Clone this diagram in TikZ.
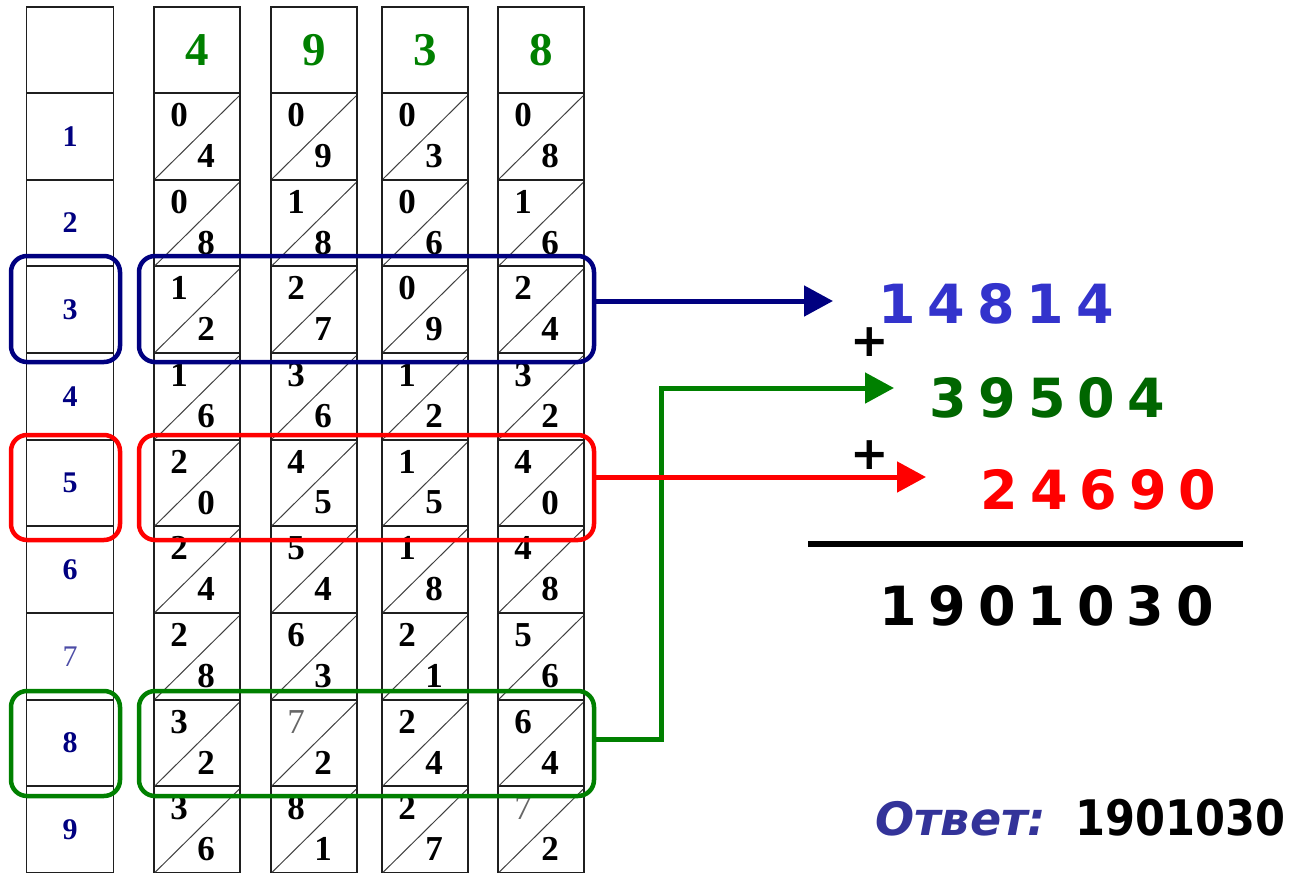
\documentclass[tikz,border=0pt]{standalone}
\usepackage{fontspec}
\setmainfont{Liberation Serif}
\newfontfamily\sansb{DejaVu Sans}
\newfontfamily\sansc{DejaVu Sans}[FakeStretch=0.88]
\usetikzlibrary{arrows.meta}
\definecolor{navyc}{RGB}{0,0,128}
\definecolor{grn}{RGB}{0,128,0}
\definecolor{dgrn}{RGB}{0,102,0}
\definecolor{bluet}{RGB}{51,51,204}
\definecolor{redc}{RGB}{255,0,0}
\definecolor{ansc}{RGB}{51,51,153}
\newcommand\litedig[1]{{\mdseries\color{black!60}#1}}
\newcommand\dgap{\hspace{12pt}}
\tikzset{
  gridline/.style={draw=black!88, line width=1.8pt},
  diagline/.style={draw=black!75, line width=1pt},
  celld/.style={inner sep=0pt, font=\bfseries\fontsize{35pt}{37pt}\selectfont},
  hdr/.style={inner sep=0pt, text=grn, font=\bfseries\fontsize{47pt}{49pt}\selectfont},
  mult/.style={inner sep=0pt, text=navyc, font=\bfseries\fontsize{30pt}{32pt}\selectfont},
  rbox/.style={draw, line width=4.5pt, rounded corners=16pt, inner sep=0pt},
  conn/.style={line width=5pt, -{Triangle[length=29pt,width=30pt]}},
  bignum/.style={inner sep=0pt, anchor=base, font=\sansb\bfseries\fontsize{54pt}{60pt}\selectfont},
  plussign/.style={inner sep=0pt, font=\sansb\bfseries\fontsize{46pt}{48pt}\selectfont},
}
\newcommand\mystrip[3]{%
  \draw[gridline] (#1,7) rectangle (#1+86,873);
  \foreach \k in {0,...,8} {\draw[gridline] (#1,93+\k*86.67) -- (#1+86,93+\k*86.67);}
  \node[hdr] (h#2) at (#1+43,50) {#2};
  \foreach \t/\u [count=\r] in {#3} {
    \pgfmathsetmacro\yt{93+(\r-1)*86.67}
    \draw[diagline] (#1+1,\yt+86) -- (#1+85,\yt+3);
    \node[celld] (c#2t\r) at (#1+25,\yt+22) {\t};
    \node[celld] (c#2u\r) at (#1+52,\yt+63) {\u};
  }%
}
\begin{document}
\begin{tikzpicture}[x=1pt,y=-1pt]
\useasboundingbox (0,0) rectangle (1291,873);
% multiplier column
\draw[gridline] (26.5,7) rectangle (113.5,873);
\foreach \k in {0,...,8} {\draw[gridline] (26.5,93+\k*86.67) -- (113.5,93+\k*86.67);}
\foreach \d in {1,2,3,4,5,6,8,9} {\node[mult] (m\d) at (70,93+\d*86.67-43.3) {\d};}
\node[mult, font=\mdseries\fontsize{30pt}{32pt}\selectfont, text=navyc!70] (m7) at (70,93+7*86.67-43.3) {7};
% strips
\mystrip{154}{4}{0/4,0/8,1/2,1/6,2/0,2/4,2/8,3/2,3/6}
\mystrip{271}{9}{0/9,1/8,2/7,3/6,4/5,5/4,6/3,{\litedig{7}}/2,8/1}
\mystrip{382}{3}{0/3,0/6,0/9,1/2,1/5,1/8,2/1,2/4,2/7}
\mystrip{498}{8}{0/8,1/6,2/4,3/2,4/0,4/8,5/6,6/4,{\litedig{7}}/2}
% highlight boxes
\node[rbox, draw=navyc, minimum width=109pt, minimum height=106pt] (nL) at (65.5,309) {};
\node[rbox, draw=navyc, minimum width=455pt, minimum height=106pt] (nB) at (366.5,309) {};
\node[rbox, draw=redc, minimum width=109pt, minimum height=105pt] (rL) at (65.5,487.5) {};
\node[rbox, draw=redc, minimum width=455pt, minimum height=105pt] (rB) at (366.5,487.5) {};
\node[rbox, draw=grn, minimum width=109pt, minimum height=105pt] (gL) at (65.5,743.5) {};
\node[rbox, draw=grn, minimum width=455pt, minimum height=105pt] (gB) at (366.5,743.5) {};
% partial products
\node[bignum, text=bluet] (p1) at (996,323) {1\dgap4\dgap8\dgap1\dgap4};
\node[bignum, text=dgrn] (p2) at (1047,417) {3\dgap9\dgap5\dgap0\dgap4};
\node[bignum, text=redc] (p3) at (1098.5,509) {2\dgap4\dgap6\dgap9\dgap0};
\node[bignum, text=black] (sum) at (1046.5,625) {1\dgap9\dgap0\dgap1\dgap0\dgap3\dgap0};
\node[plussign] (pl1) at (870,342) {+};
\node[plussign] (pl2) at (870,455) {+};
\coordinate (ruleL) at (808,544);
\coordinate (ruleR) at (1243,544);
\draw[line width=6pt] (ruleL) -- (ruleR);
% connectors
\coordinate (ntip) at (833,301);
\coordinate (rtip) at (926,477);
\coordinate (gbend) at (661,388);
\coordinate (gtip) at (894,388);
\draw[conn, navyc] ([yshift=8pt]nB.east) -- (ntip);
\draw[conn, grn] ([yshift=4.5pt]gB.east) -| (gbend) -- (gtip);
\draw[conn, redc] ([yshift=10.5pt]rB.east) -- (rtip);
% answer
\node[anchor=base west, inner sep=0pt, text=ansc, font=\sansb\bfseries\itshape\fontsize{46pt}{48pt}\selectfont] (ans) at (875,835) {Ответ:};
\node[anchor=base east, inner sep=0pt, font=\sansc\bfseries\fontsize{49pt}{52pt}\selectfont] (ansnum) at (1286,835) {1901030};
\end{tikzpicture}
\end{document}
